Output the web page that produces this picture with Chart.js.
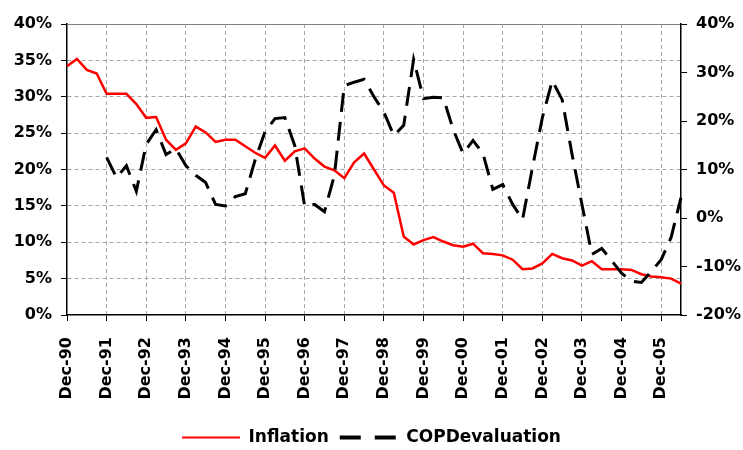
<!DOCTYPE html>
<html>
<head>
<meta charset="utf-8">
<script src="https://cdn.jsdelivr.net/npm/chart.js@4.4.0/dist/chart.umd.min.js"></script>
<style>
  html, body { margin: 0; padding: 0; background: #fff; }
</style>
</head>
<body>
<canvas id="chart" width="743" height="450"></canvas>
<script>
// quarterly, Dec-90 -> Jun-06
const quarters = [
  "Dec-90",
  "Mar-91", "Jun-91", "Sep-91", "Dec-91",
  "Mar-92", "Jun-92", "Sep-92", "Dec-92",
  "Mar-93", "Jun-93", "Sep-93", "Dec-93",
  "Mar-94", "Jun-94", "Sep-94", "Dec-94",
  "Mar-95", "Jun-95", "Sep-95", "Dec-95",
  "Mar-96", "Jun-96", "Sep-96", "Dec-96",
  "Mar-97", "Jun-97", "Sep-97", "Dec-97",
  "Mar-98", "Jun-98", "Sep-98", "Dec-98",
  "Mar-99", "Jun-99", "Sep-99", "Dec-99",
  "Mar-00", "Jun-00", "Sep-00", "Dec-00",
  "Mar-01", "Jun-01", "Sep-01", "Dec-01",
  "Mar-02", "Jun-02", "Sep-02", "Dec-02",
  "Mar-03", "Jun-03", "Sep-03", "Dec-03",
  "Mar-04", "Jun-04", "Sep-04", "Dec-04",
  "Mar-05", "Jun-05", "Sep-05", "Dec-05",
  "Mar-06", "Jun-06",
];

// % (left axis)
const inflation = [
  34.2,
  35.2, 33.7, 33.2, 30.4,
  30.4, 30.4, 29.0, 27.1,
  27.2, 24.1, 22.7, 23.6,
  25.9, 25.1, 23.8, 24.1,
  24.1, 23.2, 22.3, 21.6,
  23.3, 21.2, 22.5, 22.9,
  21.5, 20.4, 19.9, 18.8,
  21.0, 22.2, 20.0, 17.8,
  16.8, 10.8, 9.7, 10.3,
  10.7, 10.1, 9.6, 9.4,
  9.8, 8.5, 8.4, 8.2,
  7.6, 6.3, 6.4, 7.1,
  8.4, 7.8, 7.5, 6.8,
  7.4, 6.3, 6.3, 6.3,
  6.2, 5.6, 5.3, 5.2,
  5.0, 4.3,
];

// % (right axis), starts Dec-91
const copDevaluation = [
  null,
  null, null, null, 12.5,
  8.3, 10.8, 5.5, 15.2,
  18.2, 13.1, 14.3, 10.8,
  8.8, 7.3, 2.8, 2.5,
  4.4, 5.0, 12.0, 17.8,
  20.5, 20.7, 14.9, 2.4,
  2.8, 1.3, 8.8, 27.3,
  28.0, 28.6, 25.0, 21.8,
  17.0, 19.1, 32.7, 24.6,
  24.9, 24.8, 18.2, 13.3,
  16.0, 13.3, 5.9, 6.9,
  2.8, -0.3, 10.4, 20.7,
  28.3, 24.4, 13.1, 2.8,
  -7.5, -6.3, -8.8, -11.4,
  -13.0, -13.3, -11.0, -8.6,
  -4.0, 4.2,
];

const tickFont = { family: "DejaVu Sans", weight: "bold", size: 16 };
const gridGray = "#a6a6a6";

new Chart(document.getElementById("chart"), {
  type: "line",
  data: {
    labels: quarters,
    datasets: [
      {
        label: "Inflation",
        data: inflation,
        yAxisID: "yLeft",
        borderColor: "#ff0000",
        backgroundColor: "#ff0000",
        borderWidth: 2.5,
        pointRadius: 0,
        tension: 0,
        order: 1,
      },
      {
        label: "COPDevaluation",
        data: copDevaluation,
        yAxisID: "yRight",
        borderColor: "#000000",
        backgroundColor: "#000000",
        borderWidth: 3,
        borderDash: [19, 10],
        pointRadius: 0,
        tension: 0,
        order: 0, // drawn over the red line
      },
    ],
  },
  options: {
    responsive: false,
    animation: false,
    layout: { padding: { top: 24, left: 0, right: 0, bottom: -6 } },
    plugins: {
      tooltip: { enabled: false },
      legend: {
        position: "bottom",
        labels: {
          usePointStyle: true,
          pointStyle: "line",
          pointStyleWidth: 58,
          boxHeight: 10,
          padding: 11,
          color: "#000",
          font: { family: "DejaVu Sans", weight: "bold", size: 17 },
          sort: (a, b) => a.datasetIndex - b.datasetIndex,
          generateLabels: (chart) => {
            const items = Chart.defaults.plugins.legend.labels.generateLabels(chart);
            items.forEach((it) => {
              if (it.datasetIndex === 1) { it.lineDash = [21, 14]; it.lineWidth = 4; }
              else it.lineWidth = 2;
            });
            return items;
          },
        },
      },
    },
    scales: {
      x: {
        offset: false,
        grid: {
          color: (c) => (c.index % 4 === 0 && c.index > 0 ? gridGray : "transparent"),
          tickColor: (c) => (c.index % 4 === 0 ? "#000" : "transparent"),
          tickLength: 6,
        },
        border: { color: "#000", width: 1.5, dash: [4, 3] },
        ticks: {
          autoSkip: false,
          maxRotation: 90,
          minRotation: 90,
          padding: 16,
          color: "#000",
          font: tickFont,
          callback: (v, i) => (i % 4 === 0 ? quarters[i] : ""),
        },
        afterFit: (s) => { s.height = 103; },
      },
      yLeft: {
        position: "left",
        min: 0,
        max: 40,
        ticks: {
          stepSize: 5,
          padding: 9,
          color: "#000",
          font: tickFont,
          callback: (v) => v + "%",
        },
        grid: {
          color: (c) => {
            if (!c.tick) return gridGray;
            if (c.tick.value === 0) return "transparent";
            return c.tick.value === 40 ? "#808080" : gridGray;
          },
          tickColor: "#000",
          tickLength: 6,
        },
        border: {
          color: "#000",
          width: 1.5,
          dash: (c) => (c.tick && c.tick.value === 40 ? [] : [4, 3]),
        },
        afterFit: (s) => { s.width = 67; },
      },
      yRight: {
        position: "right",
        min: -20,
        max: 40,
        ticks: {
          stepSize: 10,
          padding: 9,
          color: "#000",
          font: tickFont,
          callback: (v) => v + "%",
        },
        grid: { drawOnChartArea: false, tickColor: "#000", tickLength: 6 },
        border: { color: "#000", width: 1.5 },
        afterFit: (s) => { s.width = 62; },
      },
    },
  },
});
</script>
</body>
</html>
